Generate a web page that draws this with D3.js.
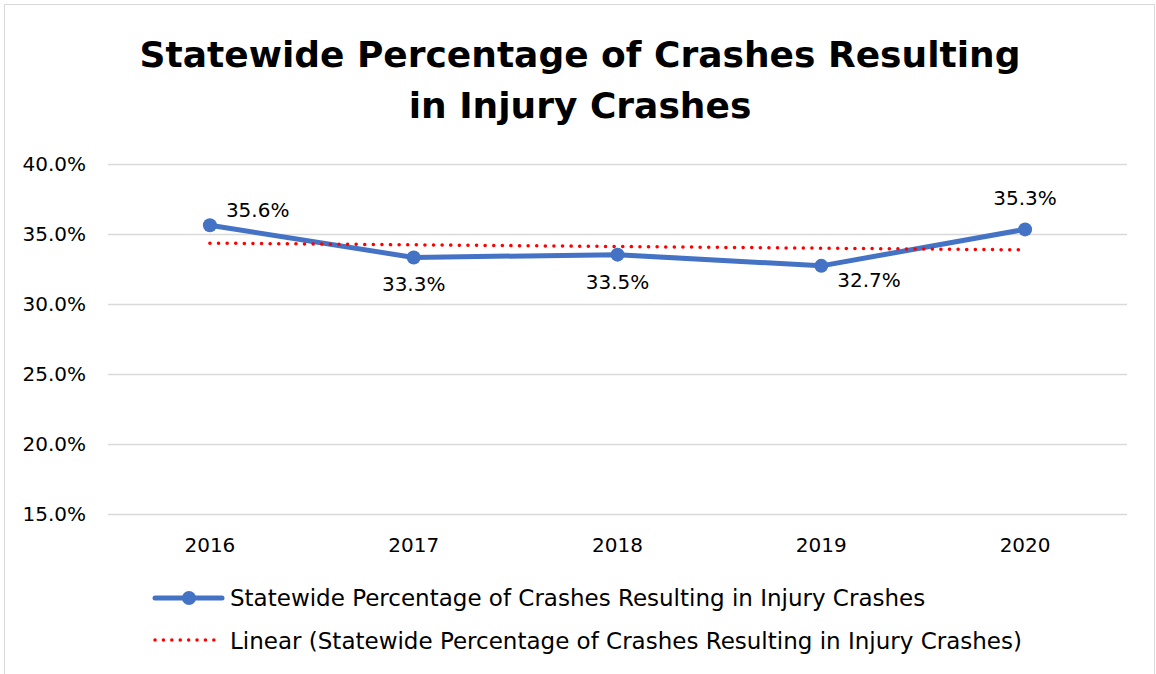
<!DOCTYPE html>
<html>
<head>
<meta charset="utf-8">
<script src="https://cdn.jsdelivr.net/npm/d3@7"></script>
<style>
  body { margin: 0; background: #fff; }
  text { font-family: "DejaVu Sans", sans-serif; fill: #000; }
</style>
</head>
<body>
<div class="chartBox"></div>
<script>
// data
var years = ['2016', '2017', '2018', '2019', '2020'];
var pctInjury = [35.6, 33.3, 33.5, 32.7, 35.3];
// linear trend values as drawn (Excel trendline)
var trendVals = [34.32, 34.2, 34.08, 33.96, 33.84];
var yTicks = [15, 20, 25, 30, 35, 40];
var labelPos = ['right', 'below', 'below', 'right', 'above'];
var seriesName = 'Statewide Percentage of Crashes Resulting in Injury Crashes';
var trendName = 'Linear (Statewide Percentage of Crashes Resulting in Injury Crashes)';

var w = 1156, h = 674;
var margin = { top: 163, right: 29, bottom: 160, left: 108 };

var svg = d3.select('div.chartBox')
  .append('svg')
  .attr('width', w)
  .attr('height', h);

// outer frame
svg.append('rect')
  .attr('x', 4.5).attr('y', 4.5)
  .attr('width', 1150).attr('height', 680)
  .attr('fill', 'none')
  .attr('stroke', '#d9d9d9');

var x = d3.scaleBand()
  .domain(years)
  .range([margin.left, w - margin.right]);

var y = d3.scaleLinear()
  .domain([15, 40])
  .range([514, 163.5]);

var cx = function(d, i) { return x(years[i]) + x.bandwidth() / 2; };

// title
var title = svg.append('text')
  .attr('text-anchor', 'middle')
  .style('font-size', '36px')
  .style('font-weight', 'bold');
title.append('tspan').attr('x', 580).attr('y', 67).text('Statewide Percentage of Crashes Resulting');
title.append('tspan').attr('x', 580).attr('y', 118).text('in Injury Crashes');

// gridlines
svg.append('g')
  .selectAll('line')
  .data(yTicks)
  .enter()
  .append('line')
  .attr('x1', margin.left)
  .attr('x2', w - margin.right)
  .attr('y1', function(d) { return Math.round(y(d)) + 0.5; })
  .attr('y2', function(d) { return Math.round(y(d)) + 0.5; })
  .attr('stroke', '#d9d9d9')
  .attr('stroke-width', 1.5);

// y axis labels
svg.append('g')
  .selectAll('text')
  .data(yTicks)
  .enter()
  .append('text')
  .attr('x', 86)
  .attr('y', function(d) { return y(d) + 7; })
  .attr('text-anchor', 'end')
  .style('font-size', '20px')
  .text(function(d) { return d.toFixed(1) + '%'; });

// x axis labels
svg.append('g')
  .selectAll('text')
  .data(years)
  .enter()
  .append('text')
  .attr('x', function(d) { return x(d) + x.bandwidth() / 2; })
  .attr('y', 552)
  .attr('text-anchor', 'middle')
  .style('font-size', '20px')
  .text(function(d) { return d; });

// series line
var line = d3.line()
  .x(cx)
  .y(function(d) { return y(d); });

svg.append('path')
  .datum(pctInjury)
  .attr('d', line)
  .attr('fill', 'none')
  .attr('stroke', '#4472c4')
  .attr('stroke-width', 5)
  .attr('stroke-linejoin', 'round')
  .attr('stroke-linecap', 'round');

// trendline (dotted red)
svg.append('path')
  .datum(trendVals)
  .attr('d', line)
  .attr('fill', 'none')
  .attr('stroke', '#ff0000')
  .attr('stroke-width', 3.5)
  .attr('stroke-dasharray', '0.1 8.5')
  .attr('stroke-linecap', 'round');

// markers
svg.append('g')
  .selectAll('circle')
  .data(pctInjury)
  .enter()
  .append('circle')
  .attr('cx', cx)
  .attr('cy', function(d) { return y(d); })
  .attr('r', 7)
  .attr('fill', '#4472c4');

// data labels
svg.append('g')
  .selectAll('text')
  .data(pctInjury)
  .enter()
  .append('text')
  .attr('x', function(d, i) { return labelPos[i] == 'right' ? cx(d, i) + 16 : cx(d, i); })
  .attr('y', function(d, i) {
    if (labelPos[i] == 'below') return y(d) + 34;
    if (labelPos[i] == 'above') return y(d) - 24;
    return i == 0 ? y(d) - 8 : y(d) + 21;
  })
  .attr('text-anchor', function(d, i) { return labelPos[i] == 'right' ? 'start' : 'middle'; })
  .style('font-size', '20px')
  .text(function(d) { return d.toFixed(1) + '%'; });

// legend
var leg = svg.append('g');
leg.append('line')
  .attr('x1', 155).attr('x2', 222)
  .attr('y1', 598).attr('y2', 598)
  .attr('stroke', '#4472c4').attr('stroke-width', 5)
  .attr('stroke-linecap', 'round');
leg.append('circle')
  .attr('cx', 189).attr('cy', 598).attr('r', 7)
  .attr('fill', '#4472c4');
leg.append('text')
  .attr('x', 230).attr('y', 606)
  .style('font-size', '23px')
  .text(seriesName);

leg.append('line')
  .attr('x1', 155).attr('x2', 222)
  .attr('y1', 640).attr('y2', 640)
  .attr('stroke', '#ff0000').attr('stroke-width', 3.5)
  .attr('stroke-dasharray', '0.1 8.3')
  .attr('stroke-linecap', 'round');
leg.append('text')
  .attr('x', 230).attr('y', 649)
  .style('font-size', '23px')
  .text(trendName);
</script>
</body>
</html>
